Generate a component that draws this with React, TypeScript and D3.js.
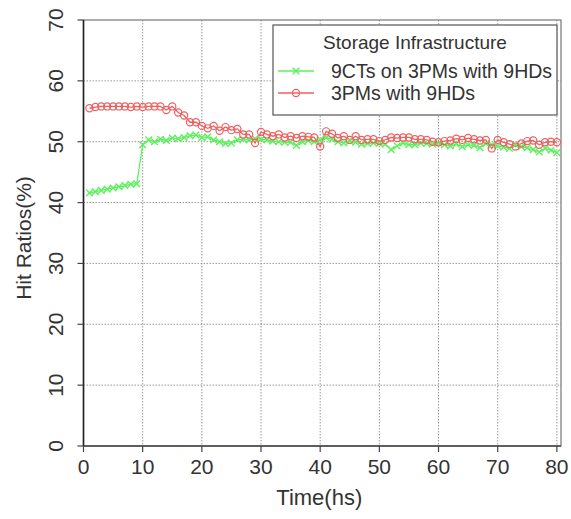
import React from "react";
import * as d3 from "d3";

const hours = d3.range(1, 81);
const ctSeries = [
  41.6, 41.8, 42.0, 42.2, 42.4, 42.6, 42.8, 43.0, 43.1, 49.5,
  50.3, 50.0, 50.4, 50.2, 50.6, 50.5, 50.7, 51.0, 51.1, 50.7,
  50.8, 50.3, 50.0, 49.7, 49.8, 50.3, 50.4, 50.3, 50.5, 50.4,
  50.3, 50.1, 50.0, 49.9, 49.9, 49.4, 50.0, 50.2, 50.0, 50.3,
  50.7, 50.4, 50.0, 49.8, 50.1, 49.9, 49.6, 49.7, 49.8, 49.7,
  49.6, 48.7, 49.3, 49.8, 49.5, 49.5, 49.8, 49.7, 49.6, 49.8,
  49.5, 49.3, 49.6, 49.2, 49.5, 49.4, 49.0, 49.7, 49.5, 49.3,
  49.1, 48.9, 49.5, 49.2, 49.0, 48.7, 48.3, 48.9, 48.6, 48.2,
];
const pmSeries = [
  55.5, 55.7, 55.8, 55.8, 55.8, 55.8, 55.8, 55.7, 55.8, 55.7,
  55.8, 55.8, 55.8, 55.2, 55.8, 54.8, 54.3, 53.2, 53.2, 52.6,
  52.2, 52.6, 51.8, 52.4, 51.9, 52.1, 51.2, 51.2, 49.8, 51.6,
  51.2, 50.9, 51.2, 50.7, 50.9, 50.6, 50.9, 50.8, 50.7, 49.2,
  51.7, 51.3, 50.6, 50.9, 50.3, 50.9, 50.3, 50.4, 50.4, 50.1,
  50.3, 50.7, 50.6, 50.7, 50.7, 50.4, 50.4, 50.3, 50.0, 49.9,
  50.1, 50.2, 50.5, 50.3, 50.6, 50.4, 50.2, 50.3, 48.9, 50.3,
  49.9, 49.6, 49.2, 49.7, 50.1, 50.2, 49.5, 49.9, 50.0, 49.9,
];
const xTicks = [0, 10, 20, 30, 40, 50, 60, 70, 80];
const yTicks = [0, 10, 20, 30, 40, 50, 60, 70];
const legendTitle = "Storage Infrastructure";
const seriesNames = ["9CTs on 3PMs with 9HDs", "3PMs with 9HDs"];

const GREEN = "#5ef05e";
const RED = "#f06060";
const FONT = "'Liberation Sans', Arial, Helvetica, sans-serif";
const TXT = "#333";

export default function App() {
  const W = 571, H = 519;
  const left = 83.5, right = 561, top = 20, bottom = 446;
  const x = d3.scaleLinear().domain([0, 80.7]).range([left, right]);
  const y = d3.scaleLinear().domain([0, 70]).range([bottom, top]);

  const line = d3.line<number>().x((_, i) => x(hours[i])).y((d) => y(d));

  const xMark = (cx: number, cy: number, k: string) => {
    const s = 3.3;
    return (
      <path key={k} d={`M${cx - s},${cy - s}L${cx + s},${cy + s}M${cx - s},${cy + s}L${cx + s},${cy - s}`}
        stroke={GREEN} strokeWidth={1.4} fill="none" />
    );
  };
  const circ = (cx: number, cy: number, k: string) => (
    <circle key={k} cx={cx} cy={cy} r={3.6} fill="none" stroke={RED} strokeWidth={1.2} />
  );

  return (
    <svg width={W} height={H} style={{ position: "absolute", left: 0, top: 0, background: "#fff" }}>
      <rect x={0} y={0} width={W} height={H} fill="#fff" />
      {xTicks.filter((t) => t > 0).map((t) => (
        <line key={"gx" + t} x1={x(t)} x2={x(t)} y1={top} y2={bottom} stroke="#999" strokeWidth={1} strokeDasharray="1.5,1.5" />
      ))}
      {yTicks.filter((t) => t > 0 && t < 70).map((t) => (
        <line key={"gy" + t} x1={left} x2={right} y1={y(t)} y2={y(t)} stroke="#999" strokeWidth={1} strokeDasharray="1.5,1.5" />
      ))}
      <rect x={left} y={top} width={right - left} height={bottom - top} fill="none" stroke="#777" strokeWidth={1.2} />
      <line x1={left} x2={left} y1={top} y2={bottom} stroke="#222" strokeWidth={1.6} />
      <line x1={left} x2={right} y1={bottom} y2={bottom} stroke="#444" strokeWidth={1.4} />
      {yTicks.map((t) => (
        <g key={"yt" + t}>
          <line x1={left - 6} x2={left} y1={y(t)} y2={y(t)} stroke="#444" strokeWidth={1.2} />
          <text transform={`translate(${63},${y(t)}) rotate(-90)`} textAnchor="middle" fontFamily={FONT} fontSize={21} fill={TXT}>{t}</text>
        </g>
      ))}
      {xTicks.map((t) => (
        <g key={"xt" + t}>
          <line x1={x(t)} x2={x(t)} y1={bottom} y2={bottom + 6} stroke="#444" strokeWidth={1.2} />
          <text x={x(t)} y={474} textAnchor="middle" fontFamily={FONT} fontSize={21} fill={TXT}>{t}</text>
        </g>
      ))}
      <text x={(left + right) / 2 - 3} y={505} textAnchor="middle" fontFamily={FONT} fontSize={22} fill={TXT}>Time(hs)</text>
      <text transform={`translate(${31},${238}) rotate(-90)`} textAnchor="middle" fontFamily={FONT} fontSize={21} fill={TXT}>Hit Ratios(%)</text>

      <path d={line(ctSeries) || ""} fill="none" stroke={GREEN} strokeWidth={1.3} />
      <path d={line(pmSeries) || ""} fill="none" stroke={RED} strokeWidth={1.3} />
      {ctSeries.map((v, i) => xMark(x(hours[i]), y(v), "g" + i))}
      {pmSeries.map((v, i) => circ(x(hours[i]), y(v), "r" + i))}

      <rect x={273} y={25} width={284} height={90} fill="#fff" stroke="#555" strokeWidth={1.2} />
      <text x={415} y={49} textAnchor="middle" fontFamily={FONT} fontSize={19} fill={TXT}>{legendTitle}</text>
      <line x1={278} x2={314} y1={71} y2={71} stroke={GREEN} strokeWidth={1.3} />
      {xMark(296, 71, "lg")}
      <text x={331} y={78} fontFamily={FONT} fontSize={19.5} fill={TXT}>{seriesNames[0]}</text>
      <line x1={278} x2={314} y1={93} y2={93} stroke={RED} strokeWidth={1.3} />
      {circ(296, 93, "lr")}
      <text x={331} y={100} fontFamily={FONT} fontSize={19.5} fill={TXT}>{seriesNames[1]}</text>
    </svg>
  );
}
